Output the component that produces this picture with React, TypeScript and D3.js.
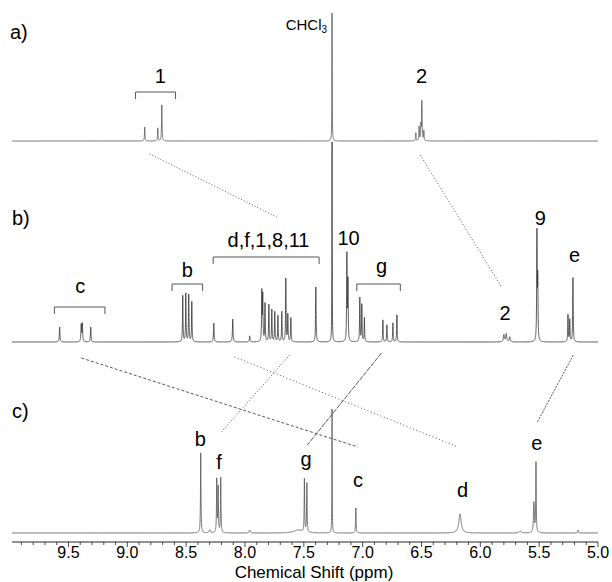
import React from 'react';
import * as d3 from 'd3';

// ppm axis
const axisTicks = [9.5, 9.0, 8.5, 8.0, 7.5, 7.0, 6.5, 6.0, 5.5, 5.0];
const minorTicks = d3.range(50, 100, 1).map(d => d / 10);

// peaks: [ppm, height, half width]
const peaksA: [number, number, number][] = [
  [8.852, 14, 0.0025], [8.741, 13, 0.0025], [8.707, 36, 0.0025],
  [7.26, 128, 0.0015],
  [6.548, 8, 0.0025], [6.52, 14, 0.0025], [6.505, 15, 0.0025], [6.497, 39, 0.0025], [6.48, 10, 0.0025],
];

const peaksB: [number, number, number][] = [
  [9.575, 15, 0.003], [9.392, 17, 0.003], [9.382, 18, 0.003], [9.311, 15, 0.003],
  [8.529, 46, 0.0025], [8.503, 48, 0.0025], [8.478, 47, 0.0025], [8.452, 40, 0.0025],
  [8.265, 19, 0.003], [8.104, 23, 0.003], [7.96, 6, 0.003],
  [7.857, 49, 0.0025], [7.849, 45, 0.0025], [7.83, 38, 0.0025], [7.797, 37, 0.0025],
  [7.772, 32, 0.0025], [7.747, 30, 0.0025], [7.72, 26, 0.0025], [7.687, 30, 0.0025],
  [7.653, 63, 0.0025], [7.636, 27, 0.0025], [7.61, 24, 0.0025],
  [7.398, 55, 0.0025],
  [7.26, 200, 0.0015],
  [7.134, 86, 0.0025], [7.125, 59, 0.0025],
  [7.024, 44, 0.0025], [7.007, 37, 0.0025], [6.985, 24, 0.0025],
  [6.828, 22, 0.0025], [6.794, 17, 0.0025], [6.743, 19, 0.0025], [6.709, 27, 0.0025],
  [5.80, 7, 0.005], [5.78, 8, 0.005], [5.75, 5, 0.005],
  [5.519, 107, 0.0025], [5.512, 60, 0.0025],
  [5.255, 27, 0.0025], [5.24, 22, 0.0025], [5.213, 64, 0.0025],
];

const peaksC: [number, number, number][] = [
  [8.376, 80, 0.0025], [8.30, 3, 0.006],
  [8.24, 53, 0.0025], [8.228, 45, 0.0025], [8.206, 55, 0.0025],
  [7.96, 3, 0.005],
  [7.495, 53, 0.0025], [7.474, 49, 0.0025], [7.55, 3, 0.04],
  [7.26, 124, 0.0015],
  [7.058, 25, 0.0025],
  [6.173, 19, 0.012],
  [5.66, 2, 0.01],
  [5.545, 30, 0.004], [5.527, 70, 0.0025],
  [5.17, 3, 0.003],
];

// annotations: [text, ppm]
const labelsA: [string, number][] = [['1', 8.72], ['2', 6.50]];
const labelsB: [string, number][] = [
  ['c', 9.40], ['b', 8.49], ['d,f,1,8,11', 7.80], ['10', 7.12],
  ['g', 6.84], ['2', 5.79], ['9', 5.49], ['e', 5.20],
];
const labelsC: [string, number][] = [
  ['b', 8.38], ['f', 8.22], ['g', 7.48], ['c', 7.04], ['d', 6.15], ['e', 5.52],
];

// brackets: [ppm from, ppm to]
const bracketsA: [number, number][] = [[8.93, 8.59]];
const bracketsB: [number, number][] = [[9.62, 9.19], [8.62, 8.36], [8.27, 7.37], [7.05, 6.68]];

// connectors between spectra: [ppm top, ppm bottom]
const connectorsAB: [number, number][] = [[8.81, 7.73], [6.51, 5.82]];
const connectorsBC: [number, number][] = [[9.39, 7.04], [8.09, 6.19], [7.62, 8.20], [6.84, 7.47], [5.21, 5.52]];

const W = 612;
const H = 582;
const font = 'Liberation Sans, Arial, Helvetica, sans-serif';

const x = d3.scaleLinear().domain([9.98, 5.0]).range([12, 598]);
const grid = d3.range(5.0, 9.98, 0.0005);

function spectrum(peaks: [number, number, number][]) {
  return grid.map(p => {
    let v = 0;
    for (const [c, h, g] of peaks) {
      const d = p - c;
      v += (h * g * g) / (d * d + g * g);
    }
    return [p, v] as [number, number];
  });
}

const Spectrum = ({ peaks, base, color }: { peaks: [number, number, number][]; base: number; color: string }) => {
  const y = d3.scaleLinear().domain([0, 100]).range([base, base - 100]);
  const line = d3.line<[number, number]>().x(d => x(d[0])).y(d => y(d[1]));
  return <path d={line(spectrum(peaks)) || ''} fill="none" stroke={color} strokeWidth={0.8} />;
};

export default function App() {
  const baseA = 141;
  const baseB = 342;
  const baseC = 533;
  const axisY = 542;

  const labelYA = [83, 83];
  const labelYB = [293, 277, 247, 245, 273, 320, 225, 262];
  const labelYC = [446, 469, 466, 487, 497, 450];
  const bracketYA = [92];
  const bracketYB = [307, 284, 257, 284];
  const connAB = [[154, 217], [155, 287]];
  const connBC = [[358, 447], [357, 447], [355, 432], [353, 445], [355, 423]];
  const dashAB = ['1,2', '1,2'];
  const dashBC = ['3,2', '1,2.5', '1,2', '5,1', '2,1.2'];

  const bracket = (b: [number, number], yy: number, i: number) => (
    <path key={i} d={`M${x(b[0])},${yy + 7}V${yy}H${x(b[1])}V${yy + 7}`} fill="none" stroke="#555" strokeWidth={1} />
  );

  return (
    <svg width={W} height={H} style={{ position: 'absolute', left: 0, top: 0, background: '#fff' }} fontFamily={font}>
      <rect width={W} height={H} fill="#fff" />

      {/* connectors */}
      {connectorsAB.map((c, i) => (
        <line key={'ab' + i} x1={x(c[0])} y1={connAB[i][0]} x2={x(c[1])} y2={connAB[i][1]}
          stroke="#444" strokeWidth={0.9} strokeDasharray={dashAB[i]} />
      ))}
      {connectorsBC.map((c, i) => (
        <line key={'bc' + i} x1={x(c[0])} y1={connBC[i][0]} x2={x(c[1])} y2={connBC[i][1]}
          stroke="#444" strokeWidth={0.9} strokeDasharray={dashBC[i]} />
      ))}

      <Spectrum peaks={peaksB} base={baseB} color="#333" />
      <Spectrum peaks={peaksA} base={baseA} color="#555" />
      <Spectrum peaks={peaksC} base={baseC} color="#555" />

      {/* panel a */}
      <text x={10} y={39} fontSize={20}>a)</text>
      <text x={x(7.26) - 5} y={30} fontSize={15} textAnchor="end">
        CHCl<tspan fontSize={10} dy={3}>3</tspan>
      </text>
      {labelsA.map((l, i) => (
        <text key={i} x={x(l[1])} y={labelYA[i]} fontSize={20} textAnchor="middle">{l[0]}</text>
      ))}
      {bracketsA.map((b, i) => bracket(b, bracketYA[i], i))}

      {/* panel b */}
      <text x={12} y={225} fontSize={20}>b)</text>
      {labelsB.map((l, i) => (
        <text key={i} x={x(l[1])} y={labelYB[i]} fontSize={20} textAnchor="middle">{l[0]}</text>
      ))}
      {bracketsB.map((b, i) => bracket(b, bracketYB[i], i))}

      {/* panel c */}
      <text x={12} y={418} fontSize={20}>c)</text>
      {labelsC.map((l, i) => (
        <text key={i} x={x(l[1])} y={labelYC[i]} fontSize={20} textAnchor="middle">{l[0]}</text>
      ))}

      {/* axis */}
      <line x1={x(9.98)} x2={x(5.0)} y1={axisY} y2={axisY} stroke="#222" strokeWidth={1} />
      {minorTicks.map(t => (
        <line key={t} x1={x(t)} x2={x(t)} y1={axisY} y2={axisY + (Math.abs(t * 2 - Math.round(t * 2)) < 1e-6 ? 5 : 3)}
          stroke="#222" strokeWidth={0.8} />
      ))}
      {axisTicks.map(t => (
        <text key={t} x={x(t)} y={558} fontSize={16} textAnchor="middle">{d3.format('.1f')(t)}</text>
      ))}
      <text x={314} y={578} fontSize={17} textAnchor="middle">Chemical Shift (ppm)</text>
    </svg>
  );
}
